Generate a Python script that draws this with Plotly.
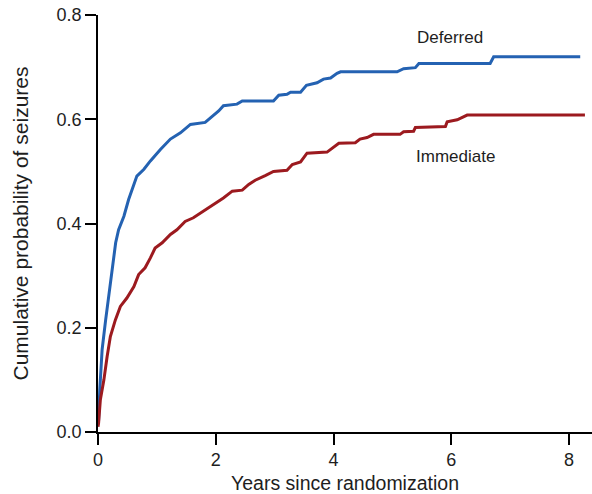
import plotly.graph_objects as go

# Deferred (blue) cumulative probability
deferred_years = [0.0, 0.01, 0.03, 0.07, 0.13, 0.18, 0.24, 0.30, 0.35, 0.44, 0.52, 0.58, 0.66,
                  0.78, 0.89, 1.06, 1.23, 1.40, 1.57, 1.82, 1.91, 2.05, 2.13, 2.36, 2.45,
                  2.98, 3.07, 3.21, 3.27, 3.44, 3.54, 3.72, 3.83, 3.95, 4.06, 4.12, 5.08,
                  5.19, 5.39, 5.45, 6.66, 6.72, 8.19]
deferred_prob = [0.015, 0.023, 0.081, 0.158, 0.215, 0.26, 0.31, 0.363, 0.388, 0.414, 0.446,
                 0.465, 0.491, 0.504, 0.52, 0.542, 0.562, 0.574, 0.59, 0.594, 0.603, 0.616,
                 0.626, 0.629, 0.635, 0.635, 0.646, 0.648, 0.652, 0.652, 0.665, 0.670,
                 0.677, 0.679, 0.688, 0.691, 0.691, 0.697, 0.699, 0.707, 0.707, 0.72, 0.72]

# Immediate (red) cumulative probability
immediate_years = [0.0, 0.01, 0.04, 0.10, 0.155, 0.21, 0.295, 0.38, 0.49, 0.61, 0.69, 0.80,
                   0.89, 0.97, 1.09, 1.23, 1.34, 1.48, 1.62, 1.74, 1.85, 1.96, 2.13, 2.28,
                   2.45, 2.56, 2.67, 2.84, 2.98, 3.21, 3.30, 3.44, 3.55, 3.89, 4.00, 4.09,
                   4.37, 4.45, 4.57, 4.68, 5.13, 5.19, 5.36, 5.39, 5.90, 5.93, 6.10, 6.27,
                   8.27]
immediate_prob = [0.01, 0.017, 0.062, 0.10, 0.145, 0.183, 0.215, 0.241, 0.257, 0.279, 0.302,
                  0.315, 0.334, 0.353, 0.363, 0.379, 0.388, 0.404, 0.411, 0.42, 0.428, 0.435,
                  0.449, 0.462, 0.464, 0.475, 0.483, 0.492, 0.50, 0.502, 0.513, 0.518, 0.535,
                  0.537, 0.547, 0.554, 0.555, 0.562, 0.565, 0.571, 0.571, 0.576, 0.577,
                  0.584, 0.586, 0.595, 0.599, 0.608, 0.608]

x_ticks = [0, 2, 4, 6, 8]
y_ticks = [0.0, 0.2, 0.4, 0.6, 0.8]

BLUE = "#2462b2"
RED = "#9c1a1f"
TEXT = "#1e1e1e"
FONT = "Liberation Sans, Arial, sans-serif"

fig = go.Figure()
fig.add_trace(go.Scatter(x=deferred_years, y=deferred_prob, mode="lines",
                         line=dict(color=BLUE, width=3), showlegend=False))
fig.add_trace(go.Scatter(x=immediate_years, y=immediate_prob, mode="lines",
                         line=dict(color=RED, width=3), showlegend=False))

fig.add_annotation(x=5.98, y=0.756, text="Deferred", showarrow=False,
                   font=dict(size=17, color=TEXT, family=FONT))
fig.add_annotation(x=6.07, y=0.529, text="Immediate", showarrow=False,
                   font=dict(size=17, color=TEXT, family=FONT))

axis_common = dict(showline=True, linecolor="black", linewidth=1.5, ticks="outside",
                   ticklen=11, tickwidth=1.5, tickcolor="black", showgrid=False,
                   zeroline=False, automargin=False,
                   tickfont=dict(size=18, color=TEXT, family=FONT))

fig.update_xaxes(range=[0, 8.39], tickvals=x_ticks,
                 title=dict(text="Years since randomization",
                            font=dict(size=19.5, color=TEXT, family=FONT), standoff=12),
                 **axis_common)
fig.update_yaxes(range=[0, 0.8], tickvals=y_ticks, tickformat=".1f",
                 title=dict(text="Cumulative probability of seizures",
                            font=dict(size=21, color=TEXT, family=FONT), standoff=22),
                 **axis_common)

fig.update_layout(width=592, height=494, margin=dict(l=98, r=0, t=15, b=62),
                  plot_bgcolor="white", paper_bgcolor="white",
                  font=dict(family=FONT))

fig.write_html("out.html", config={"displayModeBar": False},
               post_script="document.body.style.margin='0';document.body.style.overflow='hidden';")
